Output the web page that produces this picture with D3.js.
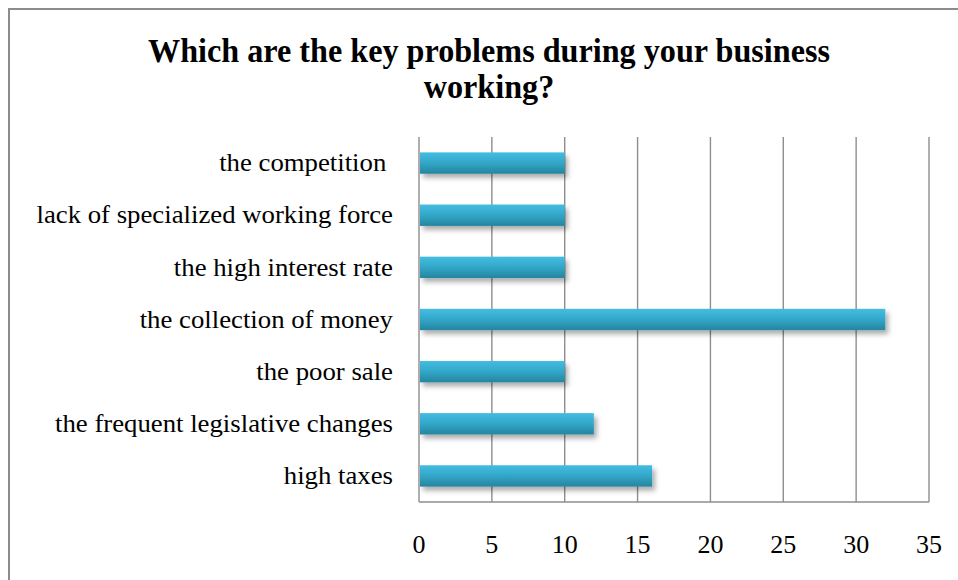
<!DOCTYPE html>
<html>
<head>
<meta charset="utf-8">
<script src="https://cdn.jsdelivr.net/npm/d3@7"></script>
<style>
  html, body { margin: 0; padding: 0; background: #fff; }
  svg { display: block; }
  text { font-family: "Liberation Serif", "Times New Roman", serif; fill: #000; white-space: pre; }
</style>
</head>
<body>
<svg id="chart" width="958" height="580"></svg>
<script>
// Survey answers: key problems during business working
const categories = [
  "the competition ",
  "lack of specialized working force",
  "the high interest rate",
  "the collection of money",
  "the poor sale",
  "the frequent legislative changes",
  "high taxes"
];
const values = [10, 10, 10, 32, 10, 12, 16];
const tickValues = [0, 5, 10, 15, 20, 25, 30, 35];
const titleLines = ["Which are the key problems during your business", "working?"];

const svg = d3.select("#chart");
const W = 958, H = 580;
const plot = { left: 419, right: 929, top: 137, bottom: 502 };

// gradient and shadow for the bars
const defs = svg.append("defs");
const grad = defs.append("linearGradient").attr("id", "barGrad")
  .attr("x1", 0).attr("y1", 0).attr("x2", 0).attr("y2", 1);
grad.append("stop").attr("offset", "0%").attr("stop-color", "#45bde0");
grad.append("stop").attr("offset", "45%").attr("stop-color", "#33a9cc");
grad.append("stop").attr("offset", "100%").attr("stop-color", "#25859f");
const shadow = defs.append("filter").attr("id", "barShadow")
  .attr("x", "-5%").attr("y", "-30%").attr("width", "115%").attr("height", "190%");
shadow.append("feDropShadow").attr("dx", 3).attr("dy", 4).attr("stdDeviation", 2.4)
  .attr("flood-color", "#000").attr("flood-opacity", 0.32);

// outer frame
svg.append("rect").attr("x", 9).attr("y", 9).attr("width", W + 20).attr("height", H + 20)
  .attr("fill", "#fff").attr("stroke", "#8c8c8c").attr("stroke-width", 2);

const x = d3.scaleLinear().domain([0, 35]).range([plot.left, plot.right]);
const y = d3.scaleBand().domain(categories).range([plot.top, plot.bottom]).paddingInner(0.59).paddingOuter(0.295);

// scale text horizontally by a factor
function stretch(sel, factor) {
  sel.each(function () {
    const len = this.getComputedTextLength();
    d3.select(this).attr("textLength", len * factor).attr("lengthAdjust", "spacingAndGlyphs");
  });
}

// vertical gridlines
svg.append("g").selectAll("line").data(tickValues).join("line")
  .attr("x1", d => x(d)).attr("x2", d => x(d))
  .attr("y1", plot.top).attr("y2", plot.bottom)
  .attr("stroke", "#8e8e8e").attr("stroke-width", 1.4);

// bottom axis line
svg.append("line").attr("x1", plot.left).attr("x2", plot.right)
  .attr("y1", plot.bottom).attr("y2", plot.bottom)
  .attr("stroke", "#8e8e8e").attr("stroke-width", 1.4);

// bars
svg.append("g").selectAll("rect").data(categories).join("rect")
  .attr("x", x(0) + 1)
  .attr("y", d => y(d))
  .attr("width", (d, i) => x(values[i]) - x(0) - 1)
  .attr("height", y.bandwidth())
  .attr("fill", "url(#barGrad)")
  .attr("filter", "url(#barShadow)");

// category labels
const cat = svg.append("g").selectAll("text").data(categories).join("text")
  .attr("x", 393)
  .attr("y", d => y(d) + y.bandwidth() / 2)
  .attr("dy", "0.33em")
  .attr("text-anchor", "end")
  .attr("font-size", 25)
  .text(d => d);
stretch(cat, 1.07);

// tick labels
svg.append("g").selectAll("text").data(tickValues).join("text")
  .attr("x", d => x(d))
  .attr("y", 553)
  .attr("text-anchor", "middle")
  .attr("font-size", 26)
  .text(d => d);

// title
const tt = svg.append("g").selectAll("text").data(titleLines).join("text")
  .attr("x", 489)
  .attr("y", (d, i) => 62 + i * 36)
  .attr("text-anchor", "middle")
  .attr("font-size", 33)
  .attr("font-weight", "bold")
  .text(d => d);
stretch(tt, 0.975);
</script>
</body>
</html>
